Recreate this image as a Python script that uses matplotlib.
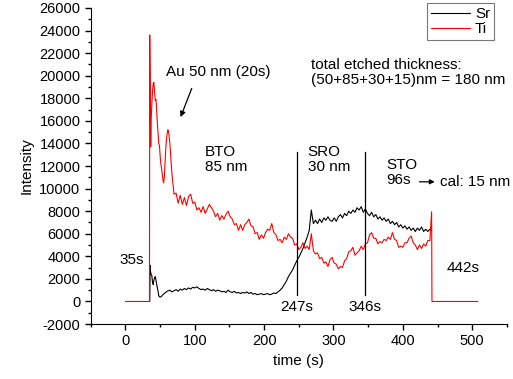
import numpy as np
import matplotlib
matplotlib.use('Agg')
import matplotlib.pyplot as plt
from matplotlib.ticker import MultipleLocator

plt.rcParams['font.family'] = ['Liberation Sans', 'DejaVu Sans']
plt.rcParams['axes.unicode_minus'] = False

# --- Ti signal ---
ti_head_t = [0, 34.6, 35, 36.4, 37, 38, 39, 40, 41, 42, 43, 44, 45, 46, 47, 48, 49, 50,
             51, 52, 53, 54, 55, 56, 57, 58, 59, 60, 61, 62, 63]
ti_head = [0, 0, 23600, 13700, 16000, 17500, 18600, 19300, 19400, 18500, 17800, 17900,
           16800, 15800, 14900, 14000, 13800, 12900, 12200, 11800, 11300, 10800, 10500,
           11000, 12300, 13400, 14300, 14800, 15200, 15100, 14600]
# sampled every 3 s from t = 64 s
ti_body = [14000, 11300, 9500, 9600, 8700, 9400, 8600, 9200, 8500, 9300, 9500, 8700,
           8800, 8100, 8300, 7900, 8400, 7800, 8200, 8600, 8300, 8000, 7500, 7800,
           7200, 7600, 7300, 7700, 8000, 7500, 7300, 6800, 6900, 6300, 6800, 6300,
           6800, 7000, 7300, 6700, 6600, 6000, 6100, 5500, 5900, 5600, 6100, 6400,
           6300, 6900, 6100, 5900, 5400, 5500, 5200, 5700, 5500, 6000, 5700, 5600,
           5000, 5100, 4600, 4800, 5200, 4700, 4900, 4600, 6000, 4500, 4200, 4300,
           3800, 3900, 3400, 3500, 3100, 3700, 3900, 3400, 3300, 2900, 3100, 3000,
           3600, 3800, 4400, 4500, 4800, 4100, 4300, 4500, 4900, 4600, 5100, 5200,
           5900, 6100, 5600, 5600, 5100, 5300, 5200, 5500, 5400, 5700, 5500, 6100,
           5500, 5400, 4800, 4900, 4800, 5200, 5200, 5600, 5800, 5200, 5000, 4600,
           5000, 4700, 5100, 4900, 5400, 5400]
ti_tail_t = [441.5, 442, 508]
ti_tail = [7950, 0, 0]

# --- Sr signal ---
sr_head_t = [35, 35.6, 36, 37, 38, 39, 40, 41, 42, 43, 44, 45, 46, 47, 48, 49, 50, 52,
             54, 56, 58, 60, 62]
sr_head = [0, 3200, 2700, 2400, 2300, 1700, 1500, 1900, 2100, 2200, 1900, 1500, 1200,
           900, 500, 420, 380, 450, 600, 700, 800, 900, 950]
sr_body = [1000, 850, 950, 1050, 900, 1100, 1000, 1150, 1050, 1200, 1100, 1250,
           1200, 1300, 1150, 1050, 1100, 1000, 1150, 1050, 950, 1050, 900, 1000,
           950, 850, 900, 800, 1000, 850, 800, 900, 750, 800, 700, 800,
           750, 850, 700, 800, 650, 700, 600, 650, 700, 600, 650, 700,
           600, 650, 750, 700, 850, 1000, 1200, 1500, 1800, 2200, 2500, 2800,
           3200, 3600, 3900, 4300, 4700, 5200, 5700, 6300, 8100, 6900, 7200, 6900,
           7300, 7000, 7400, 7200, 7500, 7200, 7100, 7400, 7100, 7500, 7700, 7400,
           7800, 7600, 8000, 7800, 8100, 7900, 8300, 8100, 8400, 7900, 8200, 7800,
           7600, 7900, 7500, 7700, 7300, 7500, 7200, 7400, 7100, 7300, 6900, 7100,
           6800, 7000, 6600, 6800, 6500, 6700, 6400, 6600, 6300, 6500, 6200, 6500,
           6300, 6600, 6200, 6400, 6200, 6400]
sr_tail_t = [441.5]
sr_tail = [6300]

ti_t = ti_head_t + list(np.arange(64, 64 + 3 * len(ti_body), 3)) + ti_tail_t
ti_y = ti_head + ti_body + ti_tail
sr_t = sr_head_t + list(np.arange(64, 64 + 3 * len(sr_body), 3)) + sr_tail_t
sr_y = sr_head + sr_body + sr_tail

# layer boundaries (s)
bounds = [247, 346]

fig = plt.figure(figsize=(5.13, 3.79), dpi=100)
ax = fig.add_axes([0.177, 0.145, 0.811, 0.834])

ax.plot(sr_t, sr_y, color='black', linewidth=0.8, label='Sr')
ax.plot(ti_t, ti_y, color='red', linewidth=0.8, label='Ti')
for b in bounds:
    ax.plot([b, b], [550, 13200], color='black', linewidth=0.9)

ax.set_xlim(-50, 550)
ax.set_ylim(-2000, 26000)
ax.xaxis.set_major_locator(MultipleLocator(100))
ax.xaxis.set_minor_locator(MultipleLocator(50))
ax.yaxis.set_major_locator(MultipleLocator(2000))
ax.yaxis.set_minor_locator(MultipleLocator(1000))
ax.tick_params(which='major', direction='out', length=4, width=1, labelsize=10.5)
ax.tick_params(which='minor', direction='out', length=2.5, width=1)
ax.spines['right'].set_visible(False)
ax.spines['top'].set_visible(False)
ax.set_xlabel('time (s)', fontsize=11)
ax.set_ylabel('Intensity', fontsize=11)

fs = 11
ax.text(58, 20300, 'Au 50 nm (20s)', fontsize=fs, va='center')
ax.annotate('', xy=(78, 16100), xytext=(97, 19100),
            arrowprops=dict(arrowstyle='-|>', color='black', lw=0.9, mutation_scale=8))
ax.text(114, 12600, 'BTO\n85 nm', fontsize=fs, va='center', linespacing=1.1)
ax.text(263, 12600, 'SRO\n30 nm', fontsize=fs, va='center', linespacing=1.1)
ax.text(376, 11400, 'STO\n96s', fontsize=fs, va='center', linespacing=1.1)
ax.annotate('', xy=(450, 10600), xytext=(420, 10600),
            arrowprops=dict(arrowstyle='-|>', color='black', lw=0.9, mutation_scale=7))
ax.text(453, 10600, 'cal: 15 nm', fontsize=fs, va='center')
ax.text(268, 20300, 'total etched thickness:\n(50+85+30+15)nm = 180 nm',
        fontsize=fs, va='center', linespacing=1.1)
ax.text(-9, 3700, '35s', fontsize=fs, va='center')
ax.text(463, 3000, '442s', fontsize=fs, va='center')
for b in bounds:
    ax.text(b, -500, '%ds' % b, fontsize=fs, va='center', ha='center')

leg = ax.legend(loc='upper right', bbox_to_anchor=(0.963, 0.992),
                bbox_transform=fig.transFigure, fontsize=11, fancybox=False,
                handlelength=2.6, handletextpad=0.3, borderpad=0.25,
                labelspacing=0.1, borderaxespad=0)
leg.get_frame().set_edgecolor('#555555')
leg.get_frame().set_linewidth(0.8)

fig.savefig('out.png', dpi=100)
